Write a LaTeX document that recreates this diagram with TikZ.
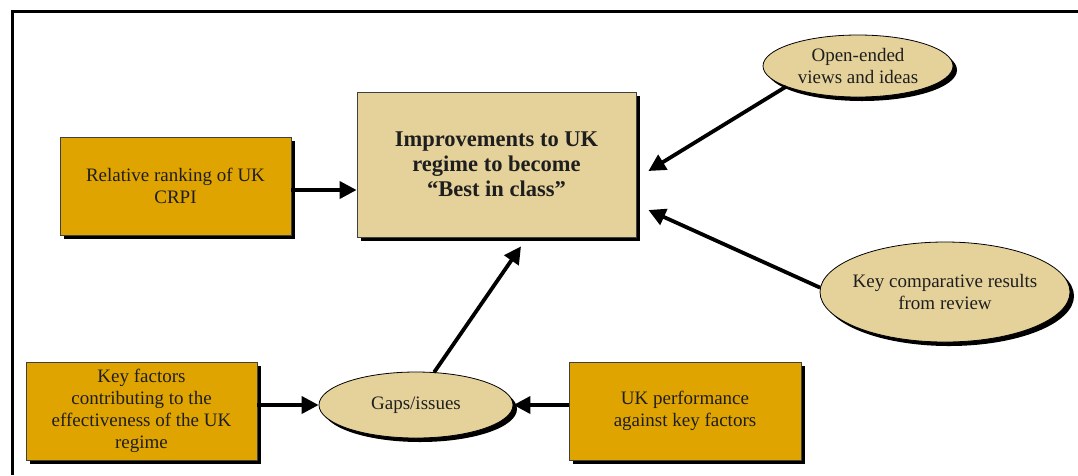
\documentclass[tikz,border=0pt]{standalone}
\usepackage{fontspec}
\setmainfont{Liberation Serif}
\usetikzlibrary{arrows.meta,shapes.geometric,shadows}

\definecolor{gold}{HTML}{E0A400}
\definecolor{tan}{HTML}{E5D29B}
\definecolor{ink}{HTML}{1E1E1E}

\tikzset{
  shade/.style={drop shadow={shadow xshift=4pt,shadow yshift=-4pt,fill=black,opacity=1}},
  factorbox/.style={rectangle,draw=black!75,line width=0.8pt,fill=gold,shade,
    text=ink,align=center,inner sep=0pt,
    font=\fontsize{19}{22}\selectfont},
  bubble/.style={ellipse,draw=black,line width=0.8pt,fill=tan,shade,
    text=ink,align=center,inner sep=0pt,
    font=\fontsize{19}{22}\selectfont},
  link/.style={line width=3.8pt,-{Triangle[length=17pt,width=17pt]}}
}

\begin{document}
\begin{tikzpicture}[x=1pt,y=-1pt]

      \useasboundingbox (0,0) rectangle (1078,475);
      \fill[white] (0,0) rectangle (1078,475);

      %Frame
      \draw[line width=3pt] (12.5,475) -- (12.5,11.5) -- (1078,11.5);

      \node(target) [factorbox,fill=tan,minimum width=279pt,minimum height=145pt,
        font=\fontsize{22.5}{25}\selectfont\bfseries] at (496.5,164.5)
        {Improvements to UK\\ regime to become\\ ``Best in class''};

      \node(rank) [factorbox,minimum width=231pt,minimum height=98pt] at (175.5,186)
        {Relative ranking of UK\\ CRPI};
      \node(factors) [factorbox,minimum width=231pt,minimum height=98pt] at (141.5,411)
        {Key factors\\ contributing to the\\ effectiveness of the UK\\ regime};
      \node(perf) [factorbox,minimum width=232pt,minimum height=98pt] at (685,411)
        {UK performance\\ against key factors};

      \node(views) [bubble,minimum width=190pt,minimum height=62pt] at (858,66)
        {Open-ended\\ views and ideas};
      \node(results) [bubble,inner xsep=-9pt,minimum width=250pt,minimum height=100pt] at (945,292)
        {Key comparative results\\ from review};
      \node(gaps) [bubble,minimum width=194pt,minimum height=66pt] at (416,405)
        {Gaps/issues};

      %Arrows
      \draw[link] ([yshift=-4pt]rank.east) -- ([yshift=-4pt]rank.east -| target.west);
      \draw[link] (views.196) -- ([xshift=12pt,yshift=-6.5pt]target.east);
      \draw[link] (results.178) -- ([xshift=12pt,yshift=-45.5pt]target.east);
      \draw[link] (gaps.61) -- ([xshift=24.5pt,yshift=-9pt]target.south);
      \draw[link] (factors.east |- gaps.west) -- (gaps.west);
      \draw[link] (perf.west |- gaps.east) -- (gaps.east);

\end{tikzpicture}
\end{document}
